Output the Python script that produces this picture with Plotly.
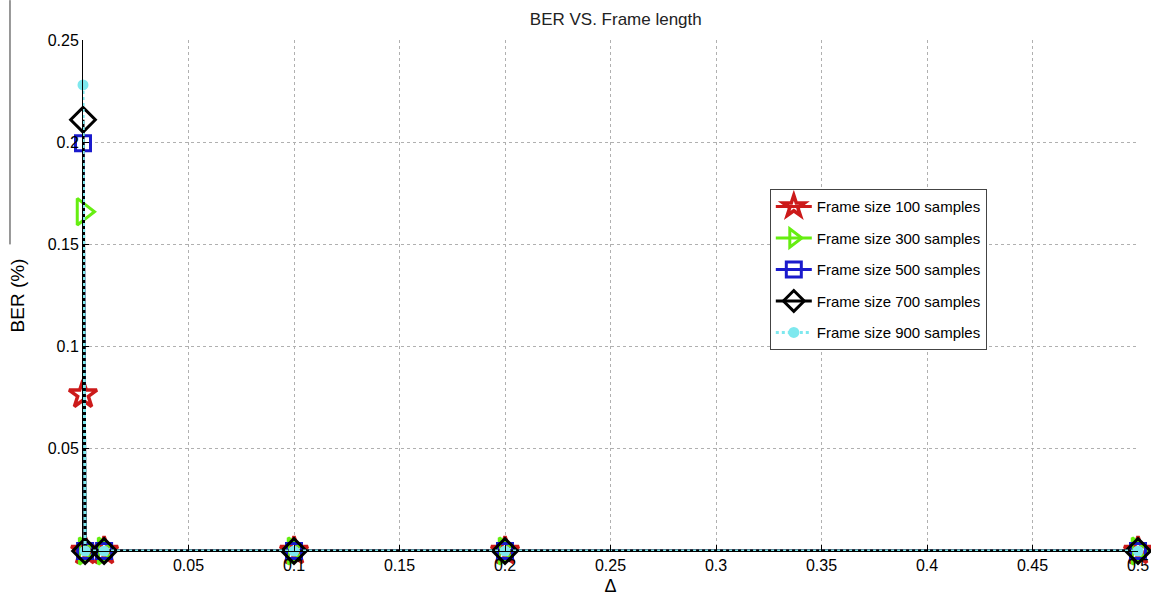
import plotly.graph_objects as go

delta = [0, 0.001, 0.01, 0.1, 0.2, 0.5]
ber_100 = [0.0765, 0, 0, 0, 0, 0]
ber_300 = [0.166, 0, 0, 0, 0, 0]
ber_500 = [0.1995, 0, 0, 0, 0, 0]
ber_700 = [0.211, 0, 0, 0, 0, 0]
ber_900 = [0.228, 0, 0, 0, 0, 0]
names = ["Frame size 100 samples", "Frame size 300 samples", "Frame size 500 samples",
         "Frame size 700 samples", "Frame size 900 samples"]
x_ticks = [0.05, 0.1, 0.15, 0.2, 0.25, 0.3, 0.35, 0.4, 0.45, 0.5]
y_ticks = [0.05, 0.1, 0.15, 0.2, 0.25]

styles = [
    dict(color="#cc1a1a", symbol="star-open", size=21, dash="solid", lw=3, mlw=3.5),
    dict(color="#66ee11", symbol="triangle-right-open", size=23, dash="solid", lw=3, mlw=3),
    dict(color="#1a1acc", symbol="square-open", size=15, dash="solid", lw=3, mlw=3),
    dict(color="#000000", symbol="diamond-open", size=19, dash="solid", lw=3, mlw=3),
    dict(color="#7ee8ee", symbol="circle", size=11, dash="dot", lw=3, mlw=0),
]

fig = go.Figure()
for i, (name, ys, st) in enumerate(zip(names, [ber_100, ber_300, ber_500, ber_700, ber_900], styles)):
    if st["symbol"] == "circle":
        mk = dict(symbol="circle", size=st["size"], color=st["color"], line=dict(width=0))
    else:
        mk = dict(symbol=st["symbol"], size=st["size"], color=st["color"],
                  line=dict(width=st["mlw"], color=st["color"]))
    fig.add_trace(go.Scatter(
        x=delta, y=ys, name=name, mode="lines+markers", legendgroup=f"g{i}",
        line=dict(color=st["color"], width=st["lw"], dash=st["dash"]),
        marker=mk, cliponaxis=False,
    ))

fig.update_layout(
    width=1151, height=596,
    margin=dict(l=83, r=13, t=40, b=45),
    paper_bgcolor="white", plot_bgcolor="white",
    font=dict(family="Liberation Sans, Arial, sans-serif", size=15, color="black"),
    title=dict(text="BER VS. Frame length", x=0.535, xanchor="center", y=0.968, yanchor="middle",
               font=dict(size=17, color="#222")),
    showlegend=True,
    legend=dict(x=0.651, y=0.708, xanchor="left", yanchor="top",
                bgcolor="white", bordercolor="#444", borderwidth=1,
                font=dict(size=15, color="black"), tracegroupgap=9, itemwidth=36),
)
fig.update_xaxes(
    range=[0, 0.5], tickvals=x_ticks, ticktext=[f"{v:g}" for v in x_ticks],
    showgrid=True, gridcolor="#b0b0b0", griddash="dot", gridwidth=1,
    showline=True, linecolor="black", linewidth=1, mirror=False,
    ticks="inside", ticklen=6, tickcolor="black", zeroline=False, automargin=False,
    title=dict(text="Δ", font=dict(size=18), standoff=8),
    tickfont=dict(size=16),
)
fig.update_yaxes(
    range=[0, 0.25], tickvals=y_ticks, ticktext=[f"{v:g}" for v in y_ticks],
    showgrid=True, gridcolor="#b0b0b0", griddash="dot", gridwidth=1,
    showline=True, linecolor="black", linewidth=1, mirror=False,
    ticks="inside", ticklen=6, tickcolor="black", zeroline=False, automargin=False,
    title=dict(text="BER (%)", font=dict(size=19), standoff=18),
    tickfont=dict(size=16),
)
fig.add_shape(type="line", xref="paper", yref="paper",
              x0=-0.0692, x1=-0.0692, y0=1.078, y1=0.6, line=dict(color="#333", width=1))
fig.write_html("out.html")
